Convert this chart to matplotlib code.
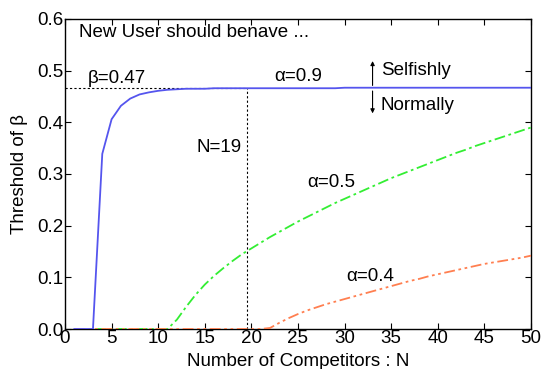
import numpy as np
import matplotlib
matplotlib.use('Agg')
import matplotlib.pyplot as plt

# ── Data ─────────────────────────────────────────────────────────────────────
n_vals = list(range(1, 51))

beta_a09 = [0.0, 0.0, 0.0, 0.339, 0.406, 0.432, 0.446, 0.454, 0.458, 0.461,
            0.463, 0.464, 0.465, 0.465, 0.465, 0.466, 0.466, 0.466, 0.466, 0.466,
            0.466, 0.466, 0.466, 0.466, 0.466, 0.466, 0.466, 0.466, 0.466, 0.467,
            0.467, 0.467, 0.467, 0.467, 0.467, 0.467, 0.467, 0.467, 0.467, 0.467,
            0.467, 0.467, 0.467, 0.467, 0.467, 0.467, 0.467, 0.467, 0.467, 0.467]

beta_a05 = [0.0, 0.0, 0.0, 0.0, 0.0, 0.0, 0.0, 0.0, 0.0, 0.0,
            0.0, 0.018, 0.043, 0.066, 0.086, 0.103, 0.118, 0.132, 0.145, 0.156,
            0.167, 0.178, 0.188, 0.198, 0.208, 0.217, 0.226, 0.235, 0.244, 0.252,
            0.260, 0.268, 0.276, 0.284, 0.292, 0.299, 0.306, 0.313, 0.320, 0.327,
            0.334, 0.341, 0.347, 0.354, 0.360, 0.366, 0.372, 0.378, 0.384, 0.390]

beta_a04 = [0.0, 0.0, 0.0, 0.0, 0.0, 0.0, 0.0, 0.0, 0.0, 0.0,
            0.0, 0.0, 0.0, 0.0, 0.0, 0.0, 0.0, 0.0, 0.0, 0.0,
            0.0, 0.002, 0.012, 0.021, 0.029, 0.036, 0.042, 0.048, 0.053, 0.058,
            0.063, 0.068, 0.073, 0.078, 0.083, 0.088, 0.093, 0.097, 0.102, 0.106,
            0.110, 0.114, 0.118, 0.122, 0.126, 0.129, 0.132, 0.135, 0.138, 0.142]

beta_star = 0.466
n_star = 19.5

x_ticks = list(range(0, 51, 5))
y_ticks = [0.0, 0.1, 0.2, 0.3, 0.4, 0.5, 0.6]

# ── Style ────────────────────────────────────────────────────────────────────
FS = 13.5
plt.rcParams.update({
    'font.family': ['Liberation Sans', 'DejaVu Sans'],
    'font.size': FS,
    'xtick.direction': 'in',
    'ytick.direction': 'in',
    'xtick.top': True,
    'ytick.right': True,
    'axes.linewidth': 1.0,
})

COLOR_A09 = '#5555ee'
COLOR_A05 = '#33ee33'
COLOR_A04 = '#ff7f50'

fig = plt.figure(figsize=(5.48, 3.69), dpi=100)
ax = fig.add_axes([65 / 548, 40 / 369, 466 / 548, 310 / 369])

ax.plot(n_vals, beta_a09, color=COLOR_A09, lw=1.3, zorder=4)
ax.plot(n_vals, beta_a05, color=COLOR_A05, lw=1.3, dashes=[6, 2, 1.5, 2], zorder=3)
ax.plot(n_vals, beta_a04, color=COLOR_A04, lw=1.3, dashes=[6, 2, 1.5, 2, 1.5, 2], zorder=3)

ax.plot([0, n_star], [beta_star, beta_star], color='black', lw=0.8, ls=(0, (2, 2)), zorder=2)
ax.plot([n_star, n_star], [0, beta_star], color='black', lw=0.8, ls=(0, (2, 2)), zorder=2)

ax.set_xlim(0, 50)
ax.set_ylim(0, 0.6)
ax.set_xticks(x_ticks)
ax.set_yticks(y_ticks)
ax.set_yticklabels([f'{v:.1f}' for v in y_ticks])
ax.tick_params(length=4, width=0.8, labelsize=FS, pad=1)

ax.set_xlabel('Number of Competitors : N', fontsize=FS, labelpad=4)
ax.set_ylabel('Threshold of β', fontsize=FS, labelpad=7)

ax.text(1.5, 0.573, 'New User should benave ...', fontsize=FS, va='center')
ax.text(2.4, 0.484, 'β=0.47', fontsize=FS, va='center')
ax.text(22.5, 0.488, 'α=0.9', fontsize=FS, va='center')
ax.text(33.9, 0.500, 'Selfishly', fontsize=FS, va='center')
ax.text(33.9, 0.432, 'Normally', fontsize=FS, va='center')
ax.text(19.0, 0.352, 'N=19', fontsize=FS, va='center', ha='right')
ax.text(26.0, 0.283, 'α=0.5', fontsize=FS, va='center')
ax.text(30.2, 0.101, 'α=0.4', fontsize=FS, va='center')

ax.annotate('', xy=(33.0, 0.524), xytext=(33.0, beta_star),
            arrowprops=dict(arrowstyle='-|>', lw=0.8, color='black', mutation_scale=6))
ax.annotate('', xy=(33.0, 0.412), xytext=(33.0, beta_star),
            arrowprops=dict(arrowstyle='-|>', lw=0.8, color='black', mutation_scale=6))

fig.savefig('out.png', dpi=100)
